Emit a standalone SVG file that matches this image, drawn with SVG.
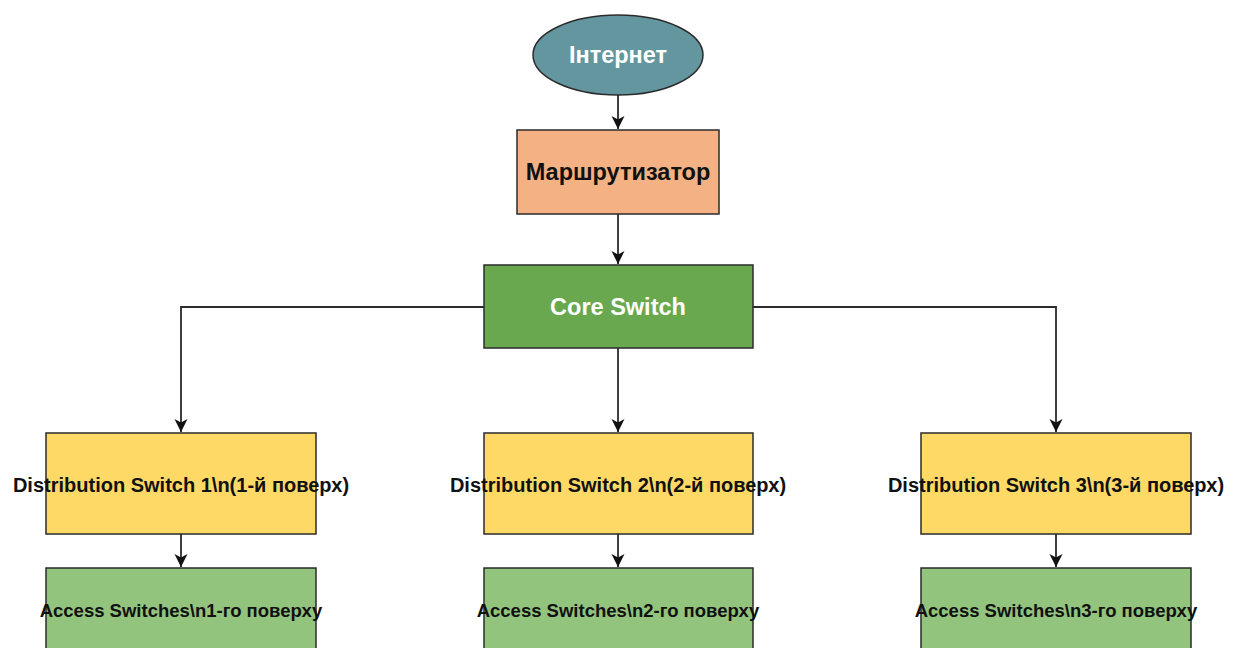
<svg xmlns="http://www.w3.org/2000/svg" width="1238" height="648" viewBox="0 0 1238 648">
  <style>
    .box { stroke: #2b2b2b; stroke-width: 1.5; }
    .lbl { font-family: "Liberation Sans", Arial, sans-serif; font-weight: bold; text-anchor: middle; dominant-baseline: central; }
    .light { fill: #ffffff; font-size: 23.5px; }
    .dark { fill: #111111; }
    .edge { fill: none; stroke: #2b2b2b; stroke-width: 1.8; }
  </style>
  <defs>
    <marker id="arrow" viewBox="0 0 14 14" refX="13" refY="7" markerWidth="14" markerHeight="14" markerUnits="userSpaceOnUse" orient="auto">
      <path d="M0,0.5 L13,7 L0,13.5 L3.5,7 Z" fill="#111111"/>
    </marker>
  </defs>
  <rect width="1238" height="648" fill="#ffffff"/>

  <!-- connectors -->
  <g id="connectors">
    <path class="edge" d="M618,95 V129" marker-end="url(#arrow)"/>
    <path class="edge" d="M618,214 V264" marker-end="url(#arrow)"/>
    <path class="edge" d="M484,307 H181 V432" marker-end="url(#arrow)"/>
    <path class="edge" d="M618,348 V432" marker-end="url(#arrow)"/>
    <path class="edge" d="M753,307 H1056 V432" marker-end="url(#arrow)"/>
    <path class="edge" d="M181,534 V567" marker-end="url(#arrow)"/>
    <path class="edge" d="M618,534 V567" marker-end="url(#arrow)"/>
    <path class="edge" d="M1056,534 V567" marker-end="url(#arrow)"/>
  </g>

  <g id="internet">
    <ellipse class="box" cx="618" cy="55" rx="85" ry="40" fill="#64969f"/>
    <text class="lbl light" x="618" y="55">Інтернет</text>
  </g>

  <g id="router">
    <rect class="box" x="517" y="130" width="202" height="84" fill="#f4b183"/>
    <text class="lbl dark" x="618" y="172" font-size="23.5">Маршрутизатор</text>
  </g>

  <g id="core">
    <rect class="box" x="484" y="265" width="269" height="83" fill="#6aa84f"/>
    <text class="lbl light" x="618" y="307">Core Switch</text>
  </g>

  <g id="dist1">
    <rect class="box" x="46" y="433" width="270" height="101" fill="#ffd966"/>
    <text class="lbl dark" x="181" y="485" font-size="20">Distribution Switch 1\n(1-й поверх)</text>
  </g>
  <g id="dist2">
    <rect class="box" x="484" y="433" width="269" height="101" fill="#ffd966"/>
    <text class="lbl dark" x="618" y="485" font-size="20">Distribution Switch 2\n(2-й поверх)</text>
  </g>
  <g id="dist3">
    <rect class="box" x="921" y="433" width="270" height="101" fill="#ffd966"/>
    <text class="lbl dark" x="1056" y="485" font-size="20">Distribution Switch 3\n(3-й поверх)</text>
  </g>

  <g id="access1">
    <rect class="box" x="46" y="568" width="270" height="101" fill="#93c47d"/>
    <text class="lbl dark" x="181" y="610" font-size="18.5">Access Switches\n1-го поверху</text>
  </g>
  <g id="access2">
    <rect class="box" x="484" y="568" width="269" height="101" fill="#93c47d"/>
    <text class="lbl dark" x="618" y="610" font-size="18.5">Access Switches\n2-го поверху</text>
  </g>
  <g id="access3">
    <rect class="box" x="921" y="568" width="270" height="101" fill="#93c47d"/>
    <text class="lbl dark" x="1056" y="610" font-size="18.5">Access Switches\n3-го поверху</text>
  </g>
</svg>
